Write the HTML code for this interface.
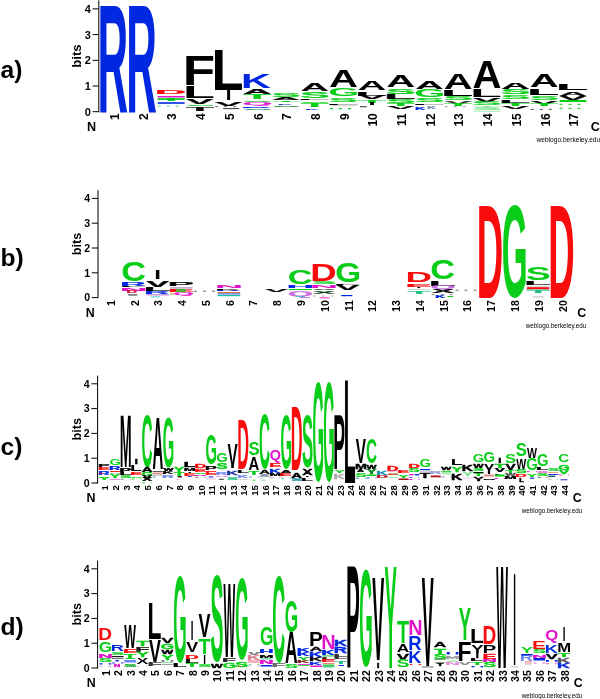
<!DOCTYPE html>
<html lang="en"><head><meta charset="utf-8"><title>Sequence logos</title>
<style>
html,body{margin:0;padding:0;background:#fff}
body{width:600px;height:699px;overflow:hidden}
svg{display:block;filter:blur(0.35px)}
text{font-family:"Liberation Sans",Arial,Helvetica,sans-serif}
.L text{font-weight:bold;font-size:100px;stroke-width:0.6px;vector-effect:non-scaling-stroke;stroke-linejoin:round}
.b{font-weight:bold;fill:#000}
.r{font-weight:normal;fill:#000}
</style></head><body>
<svg width="600" height="699" viewBox="0 0 600 699">
<rect width="600" height="699" fill="#fff"/>
<g class="L">
<text transform="matrix(0.424 0 0 1.541 97.465 111.7)" fill="#0028e0">R</text>
<text transform="matrix(0.424 0 0 1.541 126.165 111.7)" fill="#0028e0">R</text>
<text transform="matrix(0.439 0 0 0.057 154.766 94.2)" fill="#f80c0c" stroke="#f80c0c">D</text>
<rect x="157.7" y="96" width="26.9" height="1.5" fill="#e014c8"/>
<text transform="matrix(0.457 0 0 0.036 157.187 101)" fill="#0acd19" stroke="#0acd19">T</text>
<rect x="157.7" y="98.5" width="26.9" height="1.4" fill="#0acd19"/>
<rect x="157.7" y="102.2" width="26.9" height="1.6" fill="#0028e0"/>
<path d="M157.7 106.2H184.6" stroke="#7fe08a" stroke-width="1.2" stroke-dasharray="3 6" fill="none"/>
<text transform="matrix(0.53 0 0 0.416 182.853 85.3)" fill="#000">F</text>
<text transform="matrix(0.524 0 0 0.172 182.894 98)" fill="#000">L</text>
<text transform="matrix(0.412 0 0 0.068 186.118 104)" fill="#000" stroke="#000">V</text>
<text transform="matrix(0.449 0 0 0.023 185.106 105.878)" fill="#0acd19" stroke="#0acd19">S</text>
<text transform="matrix(0.457 0 0 0.055 185.887 110.6)" fill="#000" stroke="#000">T</text>
<text transform="matrix(0.524 0 0 0.57 211.594 90)" fill="#000">L</text>
<text transform="matrix(0.205 0 0 0.148 225.696 100.2)" fill="#000">I</text>
<text transform="matrix(0.412 0 0 0.054 214.818 105.5)" fill="#000" stroke="#000">V</text>
<path d="M215.1 106.6H242" stroke="#444" stroke-width="0.8" stroke-dasharray="3 6" fill="none"/>
<rect x="223.17" y="108.3" width="16.14" height="0.8" fill="#000"/>
<text transform="matrix(0.416 0 0 0.211 241.015 87.8)" fill="#0028e0">K</text>
<text transform="matrix(0.401 0 0 0.073 242.802 93.8)" fill="#000" stroke="#000">A</text>
<text transform="matrix(0.457 0 0 0.065 243.287 98.5)" fill="#0acd19" stroke="#0acd19">T</text>
<text transform="matrix(0.449 0 0 0.021 242.506 101.879)" fill="#0acd19" stroke="#0acd19">S</text>
<text transform="matrix(0.387 0 0 0.035 242.212 105.218)" fill="#e014c8" stroke="#e014c8">Q</text>
<text transform="matrix(0.424 0 0 0.02 240.965 108.4)" fill="#0028e0" stroke="#0028e0">R</text>
<text transform="matrix(0.449 0 0 0.018 242.506 109.682)" fill="#0a8a50" stroke="#0a8a50">S</text>
<text transform="matrix(0.449 0 0 0.051 271.206 96.55)" fill="#0acd19" stroke="#0acd19">S</text>
<text transform="matrix(0.401 0 0 0.038 271.502 99.6)" fill="#000" stroke="#000">A</text>
<text transform="matrix(0.457 0 0 0.019 271.987 102.1)" fill="#0acd19" stroke="#0acd19">T</text>
<text transform="matrix(0.208 0 0 0.025 277.832 104.5)" fill="#1a3fb0" stroke="#1a3fb0">K</text>
<text transform="matrix(0.449 0 0 0.021 271.206 107.479)" fill="#0a7a20" stroke="#0a7a20">S</text>
<text transform="matrix(0.401 0 0 0.102 300.202 90.5)" fill="#000">A</text>
<text transform="matrix(0.449 0 0 0.082 299.906 97.52)" fill="#0acd19" stroke="#0acd19">S</text>
<text transform="matrix(0.524 0 0 0.022 297.694 100)" fill="#000" stroke="#000">L</text>
<text transform="matrix(0.449 0 0 0.025 299.906 102.575)" fill="#0acd19" stroke="#0acd19">S</text>
<text transform="matrix(0.457 0 0 0.055 300.687 107)" fill="#0acd19" stroke="#0acd19">T</text>
<text transform="matrix(0.187 0 0 0.019 305.327 109.5)" fill="#0028e0" stroke="#0028e0">K</text>
<text transform="matrix(0.401 0 0 0.247 328.902 87)" fill="#000">A</text>
<text transform="matrix(0.399 0 0 0.113 328.265 96.49)" fill="#0acd19">G</text>
<text transform="matrix(0.449 0 0 0.062 328.606 102.139)" fill="#0acd19" stroke="#0acd19">S</text>
<text transform="matrix(0.524 0 0 0.019 326.394 104.5)" fill="#000" stroke="#000">L</text>
<rect x="329.9" y="105.6" width="26.9" height="0.5" fill="#aaa"/>
<path d="M329.9 108.6H356.8" stroke="#0acd19" stroke-width="1.2" stroke-dasharray="3 6" fill="none"/>
<text transform="matrix(0.401 0 0 0.132 357.602 90.4)" fill="#000">A</text>
<text transform="matrix(0.524 0 0 0.061 355.094 96)" fill="#000" stroke="#000">L</text>
<text transform="matrix(0.412 0 0 0.049 358.318 99)" fill="#000" stroke="#000">V</text>
<text transform="matrix(0.457 0 0 0.044 358.087 103)" fill="#0acd19" stroke="#0acd19">T</text>
<text transform="matrix(0.205 0 0 0.026 369.196 105)" fill="#000" stroke="#000">I</text>
<rect x="359.945" y="106.2" width="6.725" height="1" fill="#333"/>
<text transform="matrix(0.401 0 0 0.16 386.302 87.3)" fill="#000">A</text>
<text transform="matrix(0.449 0 0 0.073 386.006 93.928)" fill="#0acd19" stroke="#0acd19">S</text>
<text transform="matrix(0.524 0 0 0.07 383.794 98.8)" fill="#000" stroke="#000">L</text>
<text transform="matrix(0.449 0 0 0.052 386.006 103.149)" fill="#0acd19" stroke="#0acd19">S</text>
<text transform="matrix(0.457 0 0 0.042 386.787 106.4)" fill="#0acd19" stroke="#0acd19">T</text>
<text transform="matrix(0.412 0 0 0.035 387.018 108.6)" fill="#000" stroke="#000">V</text>
<text transform="matrix(0.401 0 0 0.113 415.002 88.6)" fill="#000">A</text>
<text transform="matrix(0.399 0 0 0.11 414.365 97.092)" fill="#0acd19">G</text>
<text transform="matrix(0.449 0 0 0.054 414.706 101.548)" fill="#0acd19" stroke="#0acd19">S</text>
<text transform="matrix(0.524 0 0 0.017 412.494 105)" fill="#000" stroke="#000">L</text>
<text transform="matrix(0.146 0 0 0.044 415.025 109.5)" fill="#0028e0" stroke="#0028e0">K</text>
<text transform="matrix(0.125 0 0 0.029 427.269 109)" fill="#7a90b0" stroke="#7a90b0">K</text>
<text transform="matrix(0.401 0 0 0.221 443.702 88.5)" fill="#000">A</text>
<text transform="matrix(0.524 0 0 0.092 441.194 95.6)" fill="#000" stroke="#000">L</text>
<text transform="matrix(0.449 0 0 0.059 443.406 100.142)" fill="#0acd19" stroke="#0acd19">S</text>
<text transform="matrix(0.412 0 0 0.036 444.418 104)" fill="#333" stroke="#333">V</text>
<text transform="matrix(0.457 0 0 0.026 444.187 105.8)" fill="#0acd19" stroke="#0acd19">T</text>
<path d="M444.7 106.7H471.6" stroke="#666" stroke-width="0.6" stroke-dasharray="3 6" fill="none"/>
<text transform="matrix(0.401 0 0 0.395 472.402 88)" fill="#000">A</text>
<text transform="matrix(0.524 0 0 0.116 469.894 97)" fill="#000">L</text>
<text transform="matrix(0.412 0 0 0.055 473.118 101.8)" fill="#000" stroke="#000">V</text>
<text transform="matrix(0.449 0 0 0.045 472.106 104.956)" fill="#0acd19" stroke="#0acd19">S</text>
<text transform="matrix(0.457 0 0 0.02 472.887 107.4)" fill="#7fe08a" stroke="#7fe08a">T</text>
<text transform="matrix(0.449 0 0 0.028 472.106 109.972)" fill="#7fe08a" stroke="#7fe08a">S</text>
<rect x="473.4" y="110.8" width="26.9" height="0.7" fill="#7fe08a"/>
<text transform="matrix(0.401 0 0 0.087 501.102 88.6)" fill="#000" stroke="#000">A</text>
<text transform="matrix(0.449 0 0 0.068 500.806 94.134)" fill="#0acd19" stroke="#0acd19">S</text>
<text transform="matrix(0.449 0 0 0.054 500.806 99.148)" fill="#0acd19" stroke="#0acd19">S</text>
<text transform="matrix(0.524 0 0 0.041 498.594 102.8)" fill="#000" stroke="#000">L</text>
<text transform="matrix(0.457 0 0 0.031 501.587 105.6)" fill="#0acd19" stroke="#0acd19">T</text>
<text transform="matrix(0.412 0 0 0.031 501.818 108.6)" fill="#000" stroke="#000">V</text>
<text transform="matrix(0.401 0 0 0.176 529.802 86.6)" fill="#000">A</text>
<text transform="matrix(0.524 0 0 0.092 527.294 94.6)" fill="#000" stroke="#000">L</text>
<text transform="matrix(0.449 0 0 0.059 529.506 99.542)" fill="#0acd19" stroke="#0acd19">S</text>
<text transform="matrix(0.412 0 0 0.035 530.518 103.6)" fill="#000" stroke="#000">V</text>
<text transform="matrix(0.457 0 0 0.032 530.287 106.2)" fill="#0acd19" stroke="#0acd19">T</text>
<path d="M530.8 109.4H557.7" stroke="#222" stroke-width="0.8" stroke-dasharray="3 6" fill="none"/>
<text transform="matrix(0.524 0 0 0.084 555.994 89.8)" fill="#000" stroke="#000">L</text>
<text transform="matrix(0.401 0 0 0.061 558.502 95.5)" fill="#000" stroke="#000">A</text>
<text transform="matrix(0.412 0 0 0.06 559.218 99.6)" fill="#000" stroke="#000">V</text>
<rect x="559.5" y="100" width="26.9" height="2" fill="#0acd19"/>
<path d="M559.5 104.3H586.4" stroke="#0acd19" stroke-width="1" stroke-dasharray="3 6" fill="none"/>
<path d="M559.5 108.3H586.4" stroke="#0acd19" stroke-width="1" stroke-dasharray="3 6" fill="none"/>
</g>
<path d="M98.8 0.419V112.2M92.6 111.7H98.8M92.6 86H98.8M92.6 60.3H98.8M92.6 34.6H98.8M92.6 8.9H98.8" stroke="#000" stroke-width="1" fill="none"/>
<g class="b" font-size="11" text-anchor="end">
<text x="90.9" y="115.66">0</text>
<text x="90.9" y="89.96">1</text>
<text x="90.9" y="64.26">2</text>
<text x="90.9" y="38.56">3</text>
<text x="90.9" y="12.86">4</text>
</g>
<text class="b" font-size="13.2" text-anchor="middle" transform="translate(81.4 56.06) rotate(-90)">bits</text>
<g class="b" font-size="12" text-anchor="end">
<text transform="translate(119.046 113.2) rotate(-90)">1</text>
<text transform="translate(147.746 113.2) rotate(-90)">2</text>
<text transform="translate(176.446 113.2) rotate(-90)">3</text>
<text transform="translate(205.146 113.2) rotate(-90)">4</text>
<text transform="translate(233.846 113.2) rotate(-90)">5</text>
<text transform="translate(262.546 113.2) rotate(-90)">6</text>
<text transform="translate(291.246 113.2) rotate(-90)">7</text>
<text transform="translate(319.946 113.2) rotate(-90)">8</text>
<text transform="translate(348.646 113.2) rotate(-90)">9</text>
<text transform="translate(377.346 113.2) rotate(-90)">10</text>
<text transform="translate(406.046 113.2) rotate(-90)">11</text>
<text transform="translate(434.746 113.2) rotate(-90)">12</text>
<text transform="translate(463.446 113.2) rotate(-90)">13</text>
<text transform="translate(492.146 113.2) rotate(-90)">14</text>
<text transform="translate(520.846 113.2) rotate(-90)">15</text>
<text transform="translate(549.546 113.2) rotate(-90)">16</text>
<text transform="translate(578.246 113.2) rotate(-90)">17</text>
</g>
<text class="b" font-size="12.6" text-anchor="end" x="96" y="131.1">N</text>
<text class="b" font-size="12.6" x="590.8" y="131.1">C</text>
<text class="r" font-size="6.6" text-anchor="end" x="600.2" y="141.9">weblogo.berkeley.edu</text>
<text class="b" font-size="24.6" x="0.5" y="77.8">a)</text>
<g class="L">
<text transform="matrix(0.344 0 0 0.268 121.17 281.238)" fill="#0acd19">C</text>
<text transform="matrix(0.354 0 0 0.045 120.211 285.6)" fill="#0028e0" stroke="#0028e0">R</text>
<text transform="matrix(0.438 0 0 0.016 119.65 287.3)" fill="#000" stroke="#000">L</text>
<text transform="matrix(0.382 0 0 0.032 120.022 290.6)" fill="#e014c8" stroke="#e014c8">N</text>
<text transform="matrix(0.147 0 0 0.032 126.545 293.2)" fill="#d01030" stroke="#d01030">D</text>
<rect x="128.2" y="294.5" width="8.992" height="0.9" fill="#000"/>
<text transform="matrix(0.242 0 0 0.131 154.24 278.5)" fill="#000">I</text>
<text transform="matrix(0.344 0 0 0.084 146.125 286.6)" fill="#000" stroke="#000">V</text>
<text transform="matrix(0.438 0 0 0.051 143.43 290.5)" fill="#000" stroke="#000">L</text>
<text transform="matrix(0.354 0 0 0.031 143.991 293.9)" fill="#0028e0" stroke="#0028e0">R</text>
<rect x="146.36" y="294.5" width="22.48" height="0.8" fill="#a040c0"/>
<rect x="150.856" y="296.5" width="8.992" height="0.8" fill="#22c4c4"/>
<text transform="matrix(0.397 0 0 0.061 167.483 286.2)" fill="#000" stroke="#000">P</text>
<rect x="170.14" y="287.6" width="22.48" height="0.7" fill="#703080"/>
<text transform="matrix(0.401 0 0 0.041 167.46 292.2)" fill="#f80c0c" stroke="#f80c0c">E</text>
<text transform="matrix(0.169 0 0 0.04 175.274 292.161)" fill="#0acd19" stroke="#0acd19">S</text>
<text transform="matrix(0.259 0 0 0.031 173.574 295.184)" fill="#e014c8" stroke="#e014c8">Q</text>
<rect x="170.14" y="293.4" width="4.496" height="1" fill="#f07030"/>
<path d="M193.92 291.2H216.4" stroke="#444" stroke-width="0.8" stroke-dasharray="3 6" fill="none"/>
<text transform="matrix(0.382 0 0 0.039 215.142 288.2)" fill="#e014c8" stroke="#e014c8">N</text>
<text transform="matrix(0.348 0 0 0.02 215.372 289.8)" fill="#000" stroke="#000">K</text>
<text transform="matrix(0.354 0 0 0.022 215.331 291.3)" fill="#0028e0" stroke="#0028e0">R</text>
<rect x="217.7" y="292" width="22.48" height="1" fill="#f07030"/>
<rect x="217.7" y="293.5" width="22.48" height="0.8" fill="#0028e0"/>
<rect x="217.7" y="294.8" width="22.48" height="1.4" fill="#20c0a0"/>
<text transform="matrix(0.344 0 0 0.044 265.025 292)" fill="#000" stroke="#000">V</text>
<text transform="matrix(0.344 0 0 0.198 287.63 283.807)" fill="#0acd19">C</text>
<text transform="matrix(0.382 0 0 0.033 286.482 287.8)" fill="#0028e0" stroke="#0028e0">H</text>
<rect x="289.04" y="289" width="22.48" height="1" fill="#0acd19"/>
<text transform="matrix(0.324 0 0 0.066 287.713 295.603)" fill="#c770de" stroke="#c770de">Q</text>
<rect x="295.784" y="296.3" width="8.992" height="0.7" fill="#22c4c4"/>
<text transform="matrix(0.367 0 0 0.23 310.368 280.8)" fill="#f80c0c">D</text>
<text transform="matrix(0.375 0 0 0.031 311.739 284.47)" fill="#0acd19" stroke="#0acd19">S</text>
<text transform="matrix(0.382 0 0 0.026 310.262 288)" fill="#e014c8" stroke="#e014c8">N</text>
<text transform="matrix(0.344 0 0 0.017 312.585 290.2)" fill="#000" stroke="#000">V</text>
<text transform="matrix(0.346 0 0 0.036 312.516 294)" fill="#063a10" stroke="#063a10">X</text>
<path d="M312.82 296H335.3" stroke="#999" stroke-width="0.8" stroke-dasharray="3 6" fill="none"/>
<rect x="319.564" y="297.4" width="10.116" height="0.9" fill="#e014c8"/>
<text transform="matrix(0.333 0 0 0.282 335.233 281.724)" fill="#0acd19">G</text>
<text transform="matrix(0.438 0 0 0.022 333.67 284.8)" fill="#000" stroke="#000">L</text>
<text transform="matrix(0.344 0 0 0.07 336.365 289.6)" fill="#000" stroke="#000">V</text>
<rect x="341.096" y="295" width="11.24" height="1.2" fill="#0028e0"/>
<text transform="matrix(0.367 0 0 0.141 405.488 282.2)" fill="#f80c0c">D</text>
<text transform="matrix(0.401 0 0 0.038 405.26 286.6)" fill="#f80c0c" stroke="#f80c0c">E</text>
<rect x="417.382" y="287" width="2.698" height="1.1" fill="#000"/>
<rect x="407.94" y="289.3" width="22.48" height="0.5" fill="#aaa"/>
<text transform="matrix(0.382 0 0 0.032 407.511 294)" fill="#20c080" stroke="#20c080">T</text>
<text transform="matrix(0.344 0 0 0.275 430.31 278.731)" fill="#0acd19">C</text>
<text transform="matrix(0.438 0 0 0.073 428.79 285.5)" fill="#000" stroke="#000">L</text>
<text transform="matrix(0.324 0 0 0.048 430.393 289.355)" fill="#c770de" stroke="#c770de">Q</text>
<text transform="matrix(0.346 0 0 0.049 431.416 293.2)" fill="#000" stroke="#000">X</text>
<path d="M431.72 294.6H454.2" stroke="#333" stroke-width="0.6" stroke-dasharray="3 6" fill="none"/>
<text transform="matrix(0.139 0 0 0.029 435.285 297.5)" fill="#0028e0" stroke="#0028e0">K</text>
<rect x="447.456" y="296" width="5.62" height="1" fill="#0acd19"/>
<path d="M455.5 290.2H477.98" stroke="#444" stroke-width="0.8" stroke-dasharray="3 6" fill="none"/>
<text transform="matrix(0.367 0 0 1.344 476.828 297.5)" fill="#f80c0c">D</text>
<text transform="matrix(0.333 0 0 1.325 501.693 296.506)" fill="#0acd19">G</text>
<text transform="matrix(0.375 0 0 0.191 525.759 279.814)" fill="#0acd19">S</text>
<text transform="matrix(0.438 0 0 0.051 523.91 285.3)" fill="#000" stroke="#000">L</text>
<rect x="526.84" y="286" width="22.48" height="0.5" fill="#999"/>
<rect x="526.84" y="287.2" width="22.48" height="1.8" fill="#f80c0c"/>
<rect x="526.84" y="289.4" width="22.48" height="0.4" fill="#444"/>
<text transform="matrix(0.382 0 0 0.031 526.411 292.6)" fill="#20c080" stroke="#20c080">T</text>
<rect x="532.46" y="296.5" width="11.24" height="0.8" fill="#aaa"/>
<text transform="matrix(0.367 0 0 1.344 548.168 297.5)" fill="#f80c0c">D</text>
</g>
<path d="M98 190.216V298.1M91.8 297.6H98M91.8 272.8H98M91.8 248H98M91.8 223.2H98M91.8 198.4H98" stroke="#000" stroke-width="1" fill="none"/>
<g class="b" font-size="10.6" text-anchor="end">
<text x="90.1" y="301.416">0</text>
<text x="90.1" y="276.616">1</text>
<text x="90.1" y="251.816">2</text>
<text x="90.1" y="227.016">3</text>
<text x="90.1" y="202.216">4</text>
</g>
<text class="b" font-size="12.7" text-anchor="middle" transform="translate(80.8 243.908) rotate(-90)">bits</text>
<g class="b" font-size="10.5" text-anchor="end">
<text transform="translate(114.749 300.2) rotate(-90)">1</text>
<text transform="translate(138.529 300.2) rotate(-90)">2</text>
<text transform="translate(162.309 300.2) rotate(-90)">3</text>
<text transform="translate(186.089 300.2) rotate(-90)">4</text>
<text transform="translate(209.869 300.2) rotate(-90)">5</text>
<text transform="translate(233.649 300.2) rotate(-90)">6</text>
<text transform="translate(257.429 300.2) rotate(-90)">7</text>
<text transform="translate(281.209 300.2) rotate(-90)">8</text>
<text transform="translate(304.989 300.2) rotate(-90)">9</text>
<text transform="translate(328.769 300.2) rotate(-90)">10</text>
<text transform="translate(352.549 300.2) rotate(-90)">11</text>
<text transform="translate(376.329 300.2) rotate(-90)">12</text>
<text transform="translate(400.109 300.2) rotate(-90)">13</text>
<text transform="translate(423.889 300.2) rotate(-90)">14</text>
<text transform="translate(447.669 300.2) rotate(-90)">15</text>
<text transform="translate(471.449 300.2) rotate(-90)">16</text>
<text transform="translate(495.229 300.2) rotate(-90)">17</text>
<text transform="translate(519.009 300.2) rotate(-90)">18</text>
<text transform="translate(542.789 300.2) rotate(-90)">19</text>
<text transform="translate(566.569 300.2) rotate(-90)">20</text>
</g>
<text class="b" font-size="12.4" text-anchor="end" x="94.7" y="316.8">N</text>
<text class="b" font-size="12.4" x="577.2" y="316.8">C</text>
<text class="r" font-size="6.27" text-anchor="end" x="586.3" y="328">weblogo.berkeley.edu</text>
<text class="b" font-size="24.6" x="0.5" y="265.5">b)</text>
<g class="L">
<text transform="matrix(0.177 0 0 0.041 98.119 466.6)" fill="#000" stroke="#000">P</text>
<text transform="matrix(0.178 0 0 0.035 98.109 470.2)" fill="#f80c0c" stroke="#f80c0c">E</text>
<text transform="matrix(0.157 0 0 0.048 98.247 474.5)" fill="#0028e0" stroke="#0028e0">R</text>
<rect x="99.3" y="472.8" width="3.996" height="0.8" fill="#f80c0c"/>
<text transform="matrix(0.167 0 0 0.023 98.82 477.578)" fill="#0acd19" stroke="#0acd19">S</text>
<text transform="matrix(0.158 0 0 0.026 99.031 480.2)" fill="#0acd19" stroke="#0acd19">Y</text>
<text transform="matrix(0.148 0 0 0.095 109.383 465.108)" fill="#0acd19">G</text>
<text transform="matrix(0.157 0 0 0.047 108.937 470.2)" fill="#0028e0" stroke="#0028e0">R</text>
<rect x="109.99" y="471" width="9.99" height="0.9" fill="#f80c0c"/>
<rect x="109.99" y="473.2" width="9.99" height="0.5" fill="#aaa"/>
<text transform="matrix(0.158 0 0 0.055 109.721 477.8)" fill="#0acd19" stroke="#0acd19">Y</text>
<rect x="109.99" y="479" width="9.99" height="1" fill="#e58be0"/>
<text transform="matrix(0.143 0 0 0.735 119.724 466.6)" fill="#000">M</text>
<text transform="matrix(0.177 0 0 0.048 119.499 472.3)" fill="#000" stroke="#000">P</text>
<text transform="matrix(0.195 0 0 0.031 119.378 474.9)" fill="#000" stroke="#000">L</text>
<text transform="matrix(0.167 0 0 0.034 120.2 478.167)" fill="#0acd19" stroke="#0acd19">S</text>
<path d="M120.68 479.3H130.67" stroke="#333" stroke-width="0.6" stroke-dasharray="3 6" fill="none"/>
<text transform="matrix(0.111 0 0 0.065 134.824 464)" fill="#000" stroke="#000">I</text>
<text transform="matrix(0.195 0 0 0.094 130.068 471)" fill="#000">L</text>
<text transform="matrix(0.178 0 0 0.038 130.179 475.2)" fill="#f80c0c" stroke="#f80c0c">E</text>
<text transform="matrix(0.167 0 0 0.02 130.89 477.581)" fill="#0acd19" stroke="#0acd19">S</text>
<path d="M131.37 479H141.36" stroke="#0acd19" stroke-width="0.8" stroke-dasharray="3 6" fill="none"/>
<text transform="matrix(0.153 0 0 0.742 141.433 466.776)" fill="#0acd19">C</text>
<text transform="matrix(0.149 0 0 0.065 141.689 472.3)" fill="#000" stroke="#000">A</text>
<text transform="matrix(0.148 0 0 0.051 141.453 475.55)" fill="#0acd19" stroke="#0acd19">G</text>
<text transform="matrix(0.153 0 0 0.038 141.955 478)" fill="#000" stroke="#000">V</text>
<text transform="matrix(0.154 0 0 0.047 141.925 481.2)" fill="#000" stroke="#000">X</text>
<path d="M142.06 482.8H152.05" stroke="#0acd19" stroke-width="0.8" stroke-dasharray="3 6" fill="none"/>
<text transform="matrix(0.149 0 0 0.75 152.379 468.6)" fill="#000">A</text>
<rect x="152.75" y="471" width="9.99" height="0.9" fill="#445"/>
<rect x="152.75" y="472.6" width="9.99" height="1.8" fill="#e08a8a"/>
<rect x="152.75" y="475.2" width="9.99" height="0.6" fill="#aaa"/>
<path d="M152.75 477H162.74" stroke="#3080a0" stroke-width="0.8" stroke-dasharray="3 6" fill="none"/>
<text transform="matrix(0.148 0 0 0.703 162.833 467.113)" fill="#0acd19">G</text>
<text transform="matrix(0.106 0 0 0.029 163.43 471)" fill="#000" stroke="#000">W</text>
<text transform="matrix(0.155 0 0 0.044 162.406 474)" fill="#000" stroke="#000">K</text>
<text transform="matrix(0.157 0 0 0.029 162.387 477.5)" fill="#6f86ee" stroke="#6f86ee">R</text>
<text transform="matrix(0.158 0 0 0.065 173.861 471.5)" fill="#0acd19" stroke="#0acd19">Y</text>
<text transform="matrix(0.17 0 0 0.051 173.939 476)" fill="#0acd19" stroke="#0acd19">T</text>
<rect x="177.626" y="476.2" width="4.296" height="1.2" fill="#000"/>
<rect x="176.128" y="479.3" width="3.996" height="0.5" fill="#e58be0"/>
<text transform="matrix(0.195 0 0 0.073 183.518 466.5)" fill="#000" stroke="#000">L</text>
<text transform="matrix(0.143 0 0 0.044 183.864 471)" fill="#000" stroke="#000">M</text>
<text transform="matrix(0.111 0 0 0.025 188.274 473)" fill="#000" stroke="#000">I</text>
<text transform="matrix(0.178 0 0 0.033 183.629 475.5)" fill="#f80c0c" stroke="#f80c0c">E</text>
<rect x="187.817" y="476.2" width="3.996" height="0.8" fill="#0028e0"/>
<text transform="matrix(0.163 0 0 0.058 194.42 467.5)" fill="#f80c0c" stroke="#f80c0c">D</text>
<text transform="matrix(0.178 0 0 0.036 194.319 471.5)" fill="#f80c0c" stroke="#f80c0c">E</text>
<text transform="matrix(0.167 0 0 0.025 195.03 473.975)" fill="#0acd19" stroke="#0acd19">S</text>
<text transform="matrix(0.17 0 0 0.02 194.373 475.6)" fill="#e014c8" stroke="#e014c8">N</text>
<path d="M195.51 477.35H205.5" stroke="#333" stroke-width="0.7" stroke-dasharray="3 6" fill="none"/>
<text transform="matrix(0.148 0 0 0.424 205.593 463.586)" fill="#0acd19">G</text>
<text transform="matrix(0.177 0 0 0.048 205.019 469.5)" fill="#000" stroke="#000">P</text>
<text transform="matrix(0.178 0 0 0.051 205.009 474.5)" fill="#f80c0c" stroke="#f80c0c">E</text>
<rect x="208.697" y="476.5" width="4.495" height="1" fill="#0028e0"/>
<rect x="206.2" y="478.8" width="9.99" height="0.5" fill="#e58be0"/>
<text transform="matrix(0.148 0 0 0.134 216.283 462.369)" fill="#0acd19">G</text>
<text transform="matrix(0.167 0 0 0.089 216.41 469.413)" fill="#0acd19" stroke="#0acd19">S</text>
<text transform="matrix(0.157 0 0 0.044 215.837 474.5)" fill="#6f86ee" stroke="#6f86ee">R</text>
<text transform="matrix(0.17 0 0 0.017 215.753 477.2)" fill="#e58be0" stroke="#e58be0">N</text>
<rect x="218.888" y="478.8" width="4.995" height="0.8" fill="#000"/>
<text transform="matrix(0.153 0 0 0.32 227.475 465.5)" fill="#000">V</text>
<text transform="matrix(0.111 0 0 0.026 231.034 468)" fill="#000" stroke="#000">I</text>
<text transform="matrix(0.155 0 0 0.058 226.546 474.5)" fill="#1830a0" stroke="#1830a0">K</text>
<text transform="matrix(0.167 0 0 0.042 227.1 480.459)" fill="#20c080" stroke="#20c080">S</text>
<text transform="matrix(0.163 0 0 0.712 237.18 469)" fill="#f80c0c">D</text>
<text transform="matrix(0.195 0 0 0.038 236.968 472.6)" fill="#000" stroke="#000">L</text>
<text transform="matrix(0.155 0 0 0.029 237.236 477.5)" fill="#6f86ee" stroke="#6f86ee">K</text>
<rect x="238.27" y="479" width="9.99" height="0.5" fill="#aaa"/>
<text transform="matrix(0.167 0 0 0.191 248.48 455.314)" fill="#0acd19">S</text>
<text transform="matrix(0.149 0 0 0.189 248.589 469.5)" fill="#000">A</text>
<text transform="matrix(0.17 0 0 0.051 248.769 474.5)" fill="#0acd19" stroke="#0acd19">T</text>
<path d="M248.96 477H258.95" stroke="#6080a0" stroke-width="0.8" stroke-dasharray="3 6" fill="none"/>
<rect x="251.957" y="479.8" width="3.996" height="0.6" fill="#0acd19"/>
<text transform="matrix(0.153 0 0 0.785 259.023 467.833)" fill="#0acd19">C</text>
<text transform="matrix(0.149 0 0 0.051 259.279 474)" fill="#000" stroke="#000">A</text>
<text transform="matrix(0.149 0 0 0.031 259.279 476.6)" fill="#8899aa" stroke="#8899aa">A</text>
<path d="M259.65 478.55H269.64" stroke="#888" stroke-width="0.5" stroke-dasharray="3 6" fill="none"/>
<rect x="261.648" y="479.8" width="3.996" height="0.6" fill="#20c080"/>
<text transform="matrix(0.144 0 0 0.154 269.75 459.766)" fill="#e014c8">Q</text>
<text transform="matrix(0.178 0 0 0.049 269.149 467.2)" fill="#f80c0c" stroke="#f80c0c">E</text>
<text transform="matrix(0.155 0 0 0.058 269.306 472.5)" fill="#0028e0" stroke="#0028e0">K</text>
<text transform="matrix(0.143 0 0 0.039 269.384 476.2)" fill="#000" stroke="#000">M</text>
<path d="M270.34 477.7H280.33" stroke="#444" stroke-width="0.6" stroke-dasharray="3 6" fill="none"/>
<text transform="matrix(0.148 0 0 0.757 280.423 467.86)" fill="#0acd19">G</text>
<text transform="matrix(0.149 0 0 0.036 280.659 473)" fill="#000" stroke="#000">A</text>
<text transform="matrix(0.178 0 0 0.029 279.839 475.5)" fill="#f80c0c" stroke="#f80c0c">E</text>
<path d="M281.03 477.05H291.02" stroke="#999" stroke-width="0.5" stroke-dasharray="3 6" fill="none"/>
<path d="M281.03 478.7H291.02" stroke="#20c080" stroke-width="0.6" stroke-dasharray="3 6" fill="none"/>
<text transform="matrix(0.163 0 0 0.916 290.63 470)" fill="#f80c0c">D</text>
<text transform="matrix(0.149 0 0 0.065 291.349 477.5)" fill="#000" stroke="#000">A</text>
<text transform="matrix(0.167 0 0 0.042 291.24 481.459)" fill="#2090a0" stroke="#2090a0">S</text>
<text transform="matrix(0.167 0 0 0.742 301.93 466.776)" fill="#0acd19">S</text>
<text transform="matrix(0.154 0 0 0.087 302.275 474.5)" fill="#000" stroke="#000">X</text>
<text transform="matrix(0.111 0 0 0.023 305.864 476.6)" fill="#000" stroke="#000">I</text>
<text transform="matrix(0.195 0 0 0.026 301.108 480.8)" fill="#000" stroke="#000">L</text>
<text transform="matrix(0.148 0 0 1.417 312.493 480.916)" fill="#0acd19">G</text>
<text transform="matrix(0.148 0 0 1.417 323.183 480.916)" fill="#0acd19">G</text>
<text transform="matrix(0.177 0 0 0.779 333.299 468.6)" fill="#000">P</text>
<text transform="matrix(0.158 0 0 0.041 334.211 472.6)" fill="#0acd19" stroke="#0acd19">Y</text>
<text transform="matrix(0.155 0 0 0.065 333.446 478.5)" fill="#aaa" stroke="#aaa">K</text>
<text transform="matrix(0.195 0 0 1.475 343.868 482.5)" fill="#000">L</text>
<text transform="matrix(0.153 0 0 0.349 355.755 463)" fill="#000">V</text>
<text transform="matrix(0.143 0 0 0.076 354.904 469)" fill="#000" stroke="#000">M</text>
<text transform="matrix(0.097 0 0 0.029 357.117 472)" fill="#000" stroke="#000">A</text>
<text transform="matrix(0.167 0 0 0.047 355.38 476.754)" fill="#0acd19" stroke="#0acd19">S</text>
<path d="M355.86 478.25H365.85" stroke="#2070c0" stroke-width="0.9" stroke-dasharray="3 6" fill="none"/>
<text transform="matrix(0.153 0 0 0.36 365.923 463.148)" fill="#0acd19">C</text>
<text transform="matrix(0.106 0 0 0.051 366.54 468.5)" fill="#000" stroke="#000">W</text>
<text transform="matrix(0.158 0 0 0.065 366.281 473.5)" fill="#0a8a20" stroke="#0a8a20">Y</text>
<rect x="366.55" y="474.5" width="9.99" height="1.5" fill="#0acd19"/>
<path d="M366.55 477.95H376.54" stroke="#0028e0" stroke-width="0.9" stroke-dasharray="3 6" fill="none"/>
<text transform="matrix(0.155 0 0 0.051 376.206 474.5)" fill="#1890b0" stroke="#1890b0">K</text>
<text transform="matrix(0.163 0 0 0.029 376.15 477.5)" fill="#c01020" stroke="#c01020">D</text>
<text transform="matrix(0.163 0 0 0.073 386.84 470.5)" fill="#f80c0c" stroke="#f80c0c">D</text>
<rect x="387.93" y="470.8" width="9.99" height="0.6" fill="#e58be0"/>
<rect x="387.93" y="473.5" width="9.99" height="1.5" fill="#c06030"/>
<text transform="matrix(0.167 0 0 0.021 387.45 477.979)" fill="#7fe08a" stroke="#7fe08a">S</text>
<text transform="matrix(0.178 0 0 0.038 397.429 472.6)" fill="#f80c0c" stroke="#f80c0c">E</text>
<text transform="matrix(0.158 0 0 0.036 398.351 477.5)" fill="#0acd19" stroke="#0acd19">Y</text>
<rect x="398.62" y="478.5" width="9.99" height="1.5" fill="#a01010"/>
<text transform="matrix(0.163 0 0 0.051 408.22 468)" fill="#f80c0c" stroke="#f80c0c">D</text>
<text transform="matrix(0.167 0 0 0.049 408.83 471.952)" fill="#0acd19" stroke="#0acd19">S</text>
<rect x="409.31" y="474" width="4.495" height="1.4" fill="#e014c8"/>
<rect x="414.805" y="474" width="4.495" height="1.4" fill="#0028e0"/>
<path d="M409.31 477.5H419.3" stroke="#6050d0" stroke-width="1" stroke-dasharray="3 6" fill="none"/>
<path d="M409.31 479.5H419.3" stroke="#e014c8" stroke-width="1" stroke-dasharray="3 6" fill="none"/>
<text transform="matrix(0.148 0 0 0.106 419.393 467.397)" fill="#0acd19">G</text>
<rect x="420" y="469" width="9.99" height="1.2" fill="#0028e0"/>
<rect x="420" y="471.3" width="9.99" height="0.5" fill="#aaa"/>
<text transform="matrix(0.17 0 0 0.065 419.809 478)" fill="#000" stroke="#000">T</text>
<text transform="matrix(0.157 0 0 0.039 429.637 473.5)" fill="#90a0d0" stroke="#90a0d0">R</text>
<rect x="430.69" y="475.5" width="9.99" height="1.8" fill="#b01010"/>
<text transform="matrix(0.106 0 0 0.044 441.37 470)" fill="#000" stroke="#000">W</text>
<rect x="441.38" y="471.2" width="9.99" height="1.2" fill="#0acd19"/>
<rect x="441.38" y="473.5" width="9.99" height="0.9" fill="#7fe08a"/>
<path d="M441.38 476.95H451.37" stroke="#7080c0" stroke-width="0.9" stroke-dasharray="3 6" fill="none"/>
<text transform="matrix(0.195 0 0 0.094 450.768 464.5)" fill="#000">L</text>
<text transform="matrix(0.158 0 0 0.073 451.801 471.5)" fill="#0acd19" stroke="#0acd19">Y</text>
<text transform="matrix(0.155 0 0 0.087 451.036 479.5)" fill="#000" stroke="#000">K</text>
<text transform="matrix(0.155 0 0 0.087 461.726 471)" fill="#000" stroke="#000">K</text>
<text transform="matrix(0.158 0 0 0.051 462.491 476)" fill="#7fe08a" stroke="#7fe08a">Y</text>
<rect x="462.76" y="477.8" width="9.99" height="0.5" fill="#e58be0"/>
<text transform="matrix(0.148 0 0 0.106 472.843 462.397)" fill="#0acd19">G</text>
<text transform="matrix(0.106 0 0 0.051 473.44 468)" fill="#000" stroke="#000">W</text>
<text transform="matrix(0.167 0 0 0.042 472.97 471.459)" fill="#0acd19" stroke="#0acd19">S</text>
<rect x="473.45" y="472" width="9.99" height="1" fill="#000"/>
<text transform="matrix(0.17 0 0 0.036 473.259 476)" fill="#0acd19" stroke="#0acd19">T</text>
<text transform="matrix(0.158 0 0 0.058 473.181 481)" fill="#000" stroke="#000">Y</text>
<text transform="matrix(0.148 0 0 0.141 483.533 461.862)" fill="#0acd19">G</text>
<text transform="matrix(0.158 0 0 0.145 483.871 473.5)" fill="#000">Y</text>
<rect x="484.14" y="474.5" width="9.99" height="2" fill="#e08a8a"/>
<text transform="matrix(0.143 0 0 0.022 483.184 480)" fill="#000" stroke="#000">M</text>
<text transform="matrix(0.111 0 0 0.073 498.284 462.5)" fill="#000" stroke="#000">I</text>
<text transform="matrix(0.17 0 0 0.058 494.639 468)" fill="#0acd19" stroke="#0acd19">T</text>
<text transform="matrix(0.153 0 0 0.045 494.725 471.6)" fill="#000" stroke="#000">V</text>
<text transform="matrix(0.078 0 0 0.025 495.308 474.5)" fill="#000" stroke="#000">L</text>
<rect x="494.83" y="474.5" width="9.99" height="2" fill="#0acd19"/>
<path d="M494.83 478.5H504.82" stroke="#e014c8" stroke-width="1" stroke-dasharray="3 6" fill="none"/>
<text transform="matrix(0.167 0 0 0.12 505.04 462.883)" fill="#0acd19">S</text>
<text transform="matrix(0.153 0 0 0.087 505.415 470)" fill="#000" stroke="#000">V</text>
<text transform="matrix(0.17 0 0 0.038 505.329 472.6)" fill="#0acd19" stroke="#0acd19">T</text>
<text transform="matrix(0.106 0 0 0.036 505.51 476)" fill="#555" stroke="#555">W</text>
<text transform="matrix(0.143 0 0 0.029 504.564 479)" fill="#000" stroke="#000">M</text>
<text transform="matrix(0.167 0 0 0.177 515.73 456.328)" fill="#0acd19">S</text>
<text transform="matrix(0.106 0 0 0.153 516.2 468.5)" fill="#000">W</text>
<text transform="matrix(0.167 0 0 0.054 515.73 472.748)" fill="#0acd19" stroke="#0acd19">S</text>
<text transform="matrix(0.163 0 0 0.044 515.12 477)" fill="#f80c0c" stroke="#f80c0c">D</text>
<text transform="matrix(0.078 0 0 0.051 519.186 481.5)" fill="#000" stroke="#000">L</text>
<text transform="matrix(0.106 0 0 0.145 526.89 457.5)" fill="#000">W</text>
<text transform="matrix(0.148 0 0 0.162 526.293 469.841)" fill="#0acd19">G</text>
<path d="M526.9 471.65H536.89" stroke="#e014c8" stroke-width="0.9" stroke-dasharray="3 6" fill="none"/>
<text transform="matrix(0.158 0 0 0.044 526.631 476.5)" fill="#0acd19" stroke="#0acd19">Y</text>
<rect x="529.897" y="477.5" width="4.495" height="1.5" fill="#4060d0"/>
<text transform="matrix(0.148 0 0 0.165 536.983 465.839)" fill="#0acd19">G</text>
<text transform="matrix(0.195 0 0 0.029 536.288 469.9)" fill="#000" stroke="#000">L</text>
<rect x="537.59" y="471.5" width="9.99" height="1" fill="#e014c8"/>
<text transform="matrix(0.167 0 0 0.032 537.11 476.268)" fill="#0acd19" stroke="#0acd19">S</text>
<path d="M537.59 477.4H547.58" stroke="#333" stroke-width="0.8" stroke-dasharray="3 6" fill="none"/>
<text transform="matrix(0.167 0 0 0.027 547.8 470.874)" fill="#0acd19" stroke="#0acd19">S</text>
<rect x="548.28" y="472" width="9.99" height="0.9" fill="#f09070"/>
<rect x="548.28" y="474" width="9.99" height="0.9" fill="#0028e0"/>
<rect x="548.28" y="475.6" width="6.993" height="1.4" fill="#205060"/>
<path d="M548.28 479.3H558.27" stroke="#888" stroke-width="0.6" stroke-dasharray="3 6" fill="none"/>
<text transform="matrix(0.153 0 0 0.107 558.343 462.495)" fill="#0acd19">C</text>
<text transform="matrix(0.148 0 0 0.078 558.363 469.924)" fill="#0acd19" stroke="#0acd19">G</text>
<text transform="matrix(0.153 0 0 0.051 558.865 474)" fill="#0acd19" stroke="#0acd19">V</text>
<path d="M558.97 475H568.96" stroke="#e014c8" stroke-width="0.8" stroke-dasharray="3 6" fill="none"/>
<rect x="560.468" y="479" width="6.993" height="1.4" fill="#7060d0"/>
</g>
<path d="M97.6 375.616V483.5M91.4 483H97.6M91.4 458.2H97.6M91.4 433.4H97.6M91.4 408.6H97.6M91.4 383.8H97.6" stroke="#000" stroke-width="1" fill="none"/>
<g class="b" font-size="10.6" text-anchor="end">
<text x="89.7" y="486.816">0</text>
<text x="89.7" y="462.016">1</text>
<text x="89.7" y="437.216">2</text>
<text x="89.7" y="412.416">3</text>
<text x="89.7" y="387.616">4</text>
</g>
<text class="b" font-size="12.7" text-anchor="middle" transform="translate(80.8 429.308) rotate(-90)">bits</text>
<g class="b" font-size="9.6" text-anchor="end">
<text transform="translate(108.382 485.2) rotate(-90)">1</text>
<text transform="translate(119.072 485.2) rotate(-90)">2</text>
<text transform="translate(129.762 485.2) rotate(-90)">3</text>
<text transform="translate(140.452 485.2) rotate(-90)">4</text>
<text transform="translate(151.142 485.2) rotate(-90)">5</text>
<text transform="translate(161.832 485.2) rotate(-90)">6</text>
<text transform="translate(172.522 485.2) rotate(-90)">7</text>
<text transform="translate(183.212 485.2) rotate(-90)">8</text>
<text transform="translate(193.902 485.2) rotate(-90)">9</text>
<text transform="translate(204.592 485.2) rotate(-90)">10</text>
<text transform="translate(215.282 485.2) rotate(-90)">11</text>
<text transform="translate(225.972 485.2) rotate(-90)">12</text>
<text transform="translate(236.662 485.2) rotate(-90)">13</text>
<text transform="translate(247.352 485.2) rotate(-90)">14</text>
<text transform="translate(258.042 485.2) rotate(-90)">15</text>
<text transform="translate(268.732 485.2) rotate(-90)">16</text>
<text transform="translate(279.422 485.2) rotate(-90)">17</text>
<text transform="translate(290.112 485.2) rotate(-90)">18</text>
<text transform="translate(300.802 485.2) rotate(-90)">19</text>
<text transform="translate(311.492 485.2) rotate(-90)">20</text>
<text transform="translate(322.182 485.2) rotate(-90)">21</text>
<text transform="translate(332.872 485.2) rotate(-90)">22</text>
<text transform="translate(343.562 485.2) rotate(-90)">23</text>
<text transform="translate(354.252 485.2) rotate(-90)">24</text>
<text transform="translate(364.942 485.2) rotate(-90)">25</text>
<text transform="translate(375.632 485.2) rotate(-90)">26</text>
<text transform="translate(386.322 485.2) rotate(-90)">27</text>
<text transform="translate(397.012 485.2) rotate(-90)">28</text>
<text transform="translate(407.702 485.2) rotate(-90)">29</text>
<text transform="translate(418.392 485.2) rotate(-90)">30</text>
<text transform="translate(429.082 485.2) rotate(-90)">31</text>
<text transform="translate(439.772 485.2) rotate(-90)">32</text>
<text transform="translate(450.462 485.2) rotate(-90)">33</text>
<text transform="translate(461.152 485.2) rotate(-90)">34</text>
<text transform="translate(471.842 485.2) rotate(-90)">35</text>
<text transform="translate(482.532 485.2) rotate(-90)">36</text>
<text transform="translate(493.222 485.2) rotate(-90)">37</text>
<text transform="translate(503.912 485.2) rotate(-90)">38</text>
<text transform="translate(514.602 485.2) rotate(-90)">39</text>
<text transform="translate(525.292 485.2) rotate(-90)">40</text>
<text transform="translate(535.982 485.2) rotate(-90)">41</text>
<text transform="translate(546.672 485.2) rotate(-90)">42</text>
<text transform="translate(557.362 485.2) rotate(-90)">43</text>
<text transform="translate(568.052 485.2) rotate(-90)">44</text>
</g>
<text class="b" font-size="12.4" text-anchor="end" x="95.4" y="502">N</text>
<text class="b" font-size="12.4" x="572.66" y="502">C</text>
<text class="r" font-size="6.27" text-anchor="end" x="582.3" y="513">weblogo.berkeley.edu</text>
<text class="b" font-size="24.6" x="0.5" y="455">c)</text>
<g class="L">
<text transform="matrix(0.191 0 0 0.174 98.224 639.5)" fill="#f80c0c">D</text>
<text transform="matrix(0.173 0 0 0.148 98.789 651.855)" fill="#0acd19">G</text>
<text transform="matrix(0.199 0 0 0.055 98.169 657.8)" fill="#e014c8" stroke="#e014c8">N</text>
<text transform="matrix(0.195 0 0 0.049 98.937 662.452)" fill="#0acd19" stroke="#0acd19">S</text>
<path d="M99.5 663.8H111.2" stroke="#0028e0" stroke-width="1.2" stroke-dasharray="3 6" fill="none"/>
<path d="M99.5 666.45H111.2" stroke="#e58be0" stroke-width="0.9" stroke-dasharray="3 6" fill="none"/>
<text transform="matrix(0.184 0 0 0.094 110.667 650.5)" fill="#0028e0">R</text>
<text transform="matrix(0.195 0 0 0.037 111.337 654.564)" fill="#0acd19" stroke="#0acd19">S</text>
<rect x="111.9" y="656" width="11.7" height="0.9" fill="#000"/>
<rect x="111.9" y="657.8" width="11.7" height="0.9" fill="#333"/>
<rect x="115.41" y="660" width="3.51" height="1.4" fill="#0028e0"/>
<path d="M111.9 662.95H123.6" stroke="#0028e0" stroke-width="0.9" stroke-dasharray="3 6" fill="none"/>
<text transform="matrix(0.09 0 0 0.029 113.641 667)" fill="#e014c8" stroke="#e014c8">N</text>
<text transform="matrix(0.124 0 0 0.334 124.288 648)" fill="#000">W</text>
<text transform="matrix(0.209 0 0 0.051 122.905 653)" fill="#f80c0c" stroke="#f80c0c">E</text>
<text transform="matrix(0.199 0 0 0.061 124.077 658.2)" fill="#0acd19" stroke="#0acd19">T</text>
<rect x="125.47" y="658" width="9.36" height="1" fill="#0acd19"/>
<rect x="124.3" y="660" width="11.7" height="2.5" fill="#6f86ee"/>
<text transform="matrix(0.195 0 0 0.044 123.737 666.557)" fill="#0aa520" stroke="#0aa520">S</text>
<text transform="matrix(0.199 0 0 0.08 136.477 646)" fill="#0acd19" stroke="#0acd19">T</text>
<text transform="matrix(0.231 0 0 0.065 135.157 651.5)" fill="#222" stroke="#222">F</text>
<text transform="matrix(0.185 0 0 0.065 136.385 657)" fill="#0acd19" stroke="#0acd19">Y</text>
<text transform="matrix(0.18 0 0 0.094 136.542 664)" fill="#000">X</text>
<path d="M136.7 666.1H148.4" stroke="#bbb" stroke-width="0.6" stroke-dasharray="3 6" fill="none"/>
<text transform="matrix(0.228 0 0 0.523 147.575 639)" fill="#000">L</text>
<text transform="matrix(0.179 0 0 0.313 148.978 661.5)" fill="#000">V</text>
<text transform="matrix(0.231 0 0 0.045 147.557 665.6)" fill="#333" stroke="#333">F</text>
<text transform="matrix(0.179 0 0 0.08 161.378 643)" fill="#000" stroke="#000">V</text>
<text transform="matrix(0.173 0 0 0.078 160.789 649.424)" fill="#0acd19" stroke="#0acd19">G</text>
<text transform="matrix(0.124 0 0 0.051 161.488 654)" fill="#000" stroke="#000">W</text>
<text transform="matrix(0.185 0 0 0.073 161.185 659.5)" fill="#0acd19" stroke="#0acd19">Y</text>
<path d="M161.5 660.95H173.2" stroke="#000" stroke-width="0.9" stroke-dasharray="3 6" fill="none"/>
<rect x="161.5" y="662" width="11.7" height="0.9" fill="#7fe08a"/>
<rect x="161.5" y="664" width="11.7" height="0.9" fill="#999"/>
<text transform="matrix(0.173 0 0 1.226 173.189 661.602)" fill="#0acd19">G</text>
<text transform="matrix(0.228 0 0 0.051 172.375 667)" fill="#000" stroke="#000">L</text>
<text transform="matrix(0.097 0 0 0.276 190.796 640)" fill="#000">I</text>
<text transform="matrix(0.179 0 0 0.145 186.178 652)" fill="#000">V</text>
<text transform="matrix(0.191 0 0 0.058 185.024 658.5)" fill="#f80c0c" stroke="#f80c0c">D</text>
<text transform="matrix(0.228 0 0 0.058 184.775 663)" fill="#000" stroke="#000">L</text>
<text transform="matrix(0.199 0 0 0.045 186.077 666.6)" fill="#0acd19" stroke="#0acd19">T</text>
<text transform="matrix(0.179 0 0 0.334 198.578 637)" fill="#000">V</text>
<text transform="matrix(0.199 0 0 0.225 198.477 653.5)" fill="#0acd19">T</text>
<text transform="matrix(0.097 0 0 0.131 203.196 664)" fill="#000">I</text>
<text transform="matrix(0.195 0 0 0.038 198.137 667.163)" fill="#0acd19" stroke="#0acd19">S</text>
<text transform="matrix(0.195 0 0 1.222 210.537 661.306)" fill="#0acd19">S</text>
<text transform="matrix(0.124 0 0 0.051 211.088 667.5)" fill="#000" stroke="#000">W</text>
<text transform="matrix(0.124 0 0 1.054 223.488 656.5)" fill="#000">W</text>
<text transform="matrix(0.231 0 0 0.058 221.957 662)" fill="#222" stroke="#222">F</text>
<text transform="matrix(0.173 0 0 0.064 222.789 667.938)" fill="#0acd19" stroke="#0acd19">G</text>
<text transform="matrix(0.173 0 0 1.151 235.189 659.375)" fill="#0acd19">G</text>
<text transform="matrix(0.195 0 0 0.072 235.337 666.53)" fill="#0acd19" stroke="#0acd19">S</text>
<rect x="238.825" y="665.8" width="2.34" height="1" fill="#f07030"/>
<text transform="matrix(0.179 0 0 0.038 248.178 654.6)" fill="#777" stroke="#777">V</text>
<text transform="matrix(0.181 0 0 0.065 247.089 660)" fill="#e08090" stroke="#e08090">K</text>
<rect x="248.3" y="660.6" width="11.7" height="0.8" fill="#f05060"/>
<rect x="248.3" y="661.8" width="11.7" height="0.8" fill="#e08a8a"/>
<path d="M248.3 664.85H260" stroke="#20c080" stroke-width="0.7" stroke-dasharray="3 6" fill="none"/>
<path d="M248.3 665.9H260" stroke="#e58be0" stroke-width="0.6" stroke-dasharray="3 6" fill="none"/>
<text transform="matrix(0.173 0 0 0.254 259.989 644.752)" fill="#0acd19">G</text>
<text transform="matrix(0.199 0 0 0.058 259.369 652.5)" fill="#0028e0" stroke="#0028e0">H</text>
<text transform="matrix(0.167 0 0 0.044 259.581 657.5)" fill="#000" stroke="#000">M</text>
<rect x="260.7" y="658.5" width="11.7" height="0.9" fill="#20c080"/>
<text transform="matrix(0.199 0 0 0.051 259.369 663.5)" fill="#e014c8" stroke="#e014c8">N</text>
<rect x="260.7" y="665" width="11.7" height="1.5" fill="#0028e0"/>
<text transform="matrix(0.179 0 0 1.226 272.366 661.602)" fill="#0acd19">C</text>
<text transform="matrix(0.231 0 0 0.058 271.557 667)" fill="#666" stroke="#666">F</text>
<text transform="matrix(0.173 0 0 0.452 284.789 631.558)" fill="#0acd19">G</text>
<text transform="matrix(0.174 0 0 0.443 285.066 663)" fill="#000">A</text>
<text transform="matrix(0.195 0 0 0.049 284.937 667.952)" fill="#0acd19" stroke="#0acd19">S</text>
<text transform="matrix(0.181 0 0 0.051 296.689 652)" fill="#0028e0" stroke="#0028e0">K</text>
<text transform="matrix(0.181 0 0 0.047 296.689 655.5)" fill="#0028e0" stroke="#0028e0">K</text>
<text transform="matrix(0.185 0 0 0.029 297.585 660)" fill="#0acd19" stroke="#0acd19">Y</text>
<text transform="matrix(0.181 0 0 0.036 296.689 663)" fill="#802020" stroke="#802020">K</text>
<rect x="297.9" y="664" width="11.7" height="0.8" fill="#e014c8"/>
<rect x="297.9" y="665.2" width="11.7" height="0.8" fill="#0acd19"/>
<text transform="matrix(0.207 0 0 0.203 308.917 645.5)" fill="#000">P</text>
<text transform="matrix(0.174 0 0 0.058 309.866 650.5)" fill="#000" stroke="#000">A</text>
<text transform="matrix(0.181 0 0 0.08 309.089 656.5)" fill="#0028e0" stroke="#0028e0">K</text>
<text transform="matrix(0.181 0 0 0.058 309.089 661)" fill="#000" stroke="#000">K</text>
<text transform="matrix(0.181 0 0 0.044 309.089 664.5)" fill="#0028e0" stroke="#0028e0">K</text>
<rect x="310.3" y="665.5" width="11.7" height="1.5" fill="#e014c8"/>
<text transform="matrix(0.199 0 0 0.196 321.369 648.5)" fill="#e014c8">N</text>
<text transform="matrix(0.181 0 0 0.065 321.489 654.5)" fill="#0028e0" stroke="#0028e0">K</text>
<rect x="322.7" y="655.5" width="11.7" height="0.9" fill="#0acd19"/>
<text transform="matrix(0.228 0 0 0.036 321.175 659.5)" fill="#333" stroke="#333">L</text>
<text transform="matrix(0.209 0 0 0.029 321.305 662)" fill="#f80c0c" stroke="#f80c0c">E</text>
<rect x="322.7" y="663" width="11.7" height="1.2" fill="#f08080"/>
<rect x="322.7" y="664.6" width="11.7" height="1.2" fill="#0acd19"/>
<rect x="322.7" y="666.2" width="11.7" height="1.2" fill="#20c080"/>
<text transform="matrix(0.181 0 0 0.087 333.889 646)" fill="#0028e0" stroke="#0028e0">K</text>
<text transform="matrix(0.184 0 0 0.087 333.867 653)" fill="#0028e0" stroke="#0028e0">R</text>
<text transform="matrix(0.228 0 0 0.031 333.575 656.6)" fill="#333" stroke="#333">L</text>
<text transform="matrix(0.228 0 0 0.029 333.575 659)" fill="#333" stroke="#333">L</text>
<text transform="matrix(0.199 0 0 0.029 334.877 664)" fill="#20c080" stroke="#20c080">T</text>
<rect x="338.61" y="665" width="5.265" height="1" fill="#0028e0"/>
<text transform="matrix(0.207 0 0 1.462 346.117 667.6)" fill="#000">P</text>
<text transform="matrix(0.173 0 0 1.367 359.189 666.464)" fill="#0acd19">G</text>
<text transform="matrix(0.179 0 0 1.192 372.178 660)" fill="#000">V</text>
<text transform="matrix(0.097 0 0 0.08 376.796 667.5)" fill="#000" stroke="#000">I</text>
<text transform="matrix(0.185 0 0 1.462 384.385 667.6)" fill="#0acd19">Y</text>
<text transform="matrix(0.199 0 0 0.313 396.877 642.5)" fill="#0acd19">T</text>
<text transform="matrix(0.174 0 0 0.116 396.666 651.5)" fill="#000">A</text>
<text transform="matrix(0.179 0 0 0.087 396.978 659.5)" fill="#000" stroke="#000">V</text>
<text transform="matrix(0.195 0 0 0.107 396.537 667.495)" fill="#0acd19">S</text>
<text transform="matrix(0.199 0 0 0.225 408.169 634.5)" fill="#e014c8">N</text>
<text transform="matrix(0.184 0 0 0.203 408.267 649.5)" fill="#0028e0">R</text>
<text transform="matrix(0.181 0 0 0.174 408.289 662.5)" fill="#0028e0">K</text>
<path d="M409.5 664.45H421.2" stroke="#f80c0c" stroke-width="0.9" stroke-dasharray="3 6" fill="none"/>
<text transform="matrix(0.179 0 0 1.279 421.778 666)" fill="#000">V</text>
<rect x="421.9" y="666.6" width="11.7" height="0.7" fill="#333"/>
<text transform="matrix(0.174 0 0 0.08 433.866 647)" fill="#000" stroke="#000">A</text>
<text transform="matrix(0.199 0 0 0.08 434.077 653.5)" fill="#0acd19" stroke="#0acd19">T</text>
<text transform="matrix(0.195 0 0 0.071 433.737 658.931)" fill="#0acd19" stroke="#0acd19">S</text>
<rect x="434.3" y="659.5" width="11.7" height="0.5" fill="#333"/>
<rect x="434.3" y="662" width="11.7" height="0.8" fill="#a0c0a0"/>
<text transform="matrix(0.119 0 0 0.041 436.506 665.6)" fill="#000" stroke="#000">T</text>
<path d="M446.7 653.25H458.4" stroke="#0028e0" stroke-width="2.5" stroke-dasharray="3 6" fill="none"/>
<text transform="matrix(0.167 0 0 0.044 445.581 659)" fill="#999" stroke="#999">M</text>
<rect x="446.7" y="660.6" width="11.7" height="1" fill="#7fe08a"/>
<text transform="matrix(0.199 0 0 0.036 445.369 664.5)" fill="#e58be0" stroke="#e58be0">N</text>
<text transform="matrix(0.185 0 0 0.458 458.785 639.5)" fill="#0acd19">Y</text>
<text transform="matrix(0.231 0 0 0.276 457.557 660.5)" fill="#000">F</text>
<text transform="matrix(0.179 0 0 0.029 458.978 665)" fill="#888" stroke="#888">V</text>
<text transform="matrix(0.228 0 0 0.196 469.975 643)" fill="#000">L</text>
<text transform="matrix(0.185 0 0 0.102 471.185 652.5)" fill="#000">Y</text>
<text transform="matrix(0.097 0 0 0.065 475.996 657.5)" fill="#000" stroke="#000">I</text>
<text transform="matrix(0.228 0 0 0.029 469.975 661)" fill="#000" stroke="#000">L</text>
<text transform="matrix(0.199 0 0 0.036 471.277 664.5)" fill="#0acd19" stroke="#0acd19">T</text>
<path d="M471.5 666.65H483.2" stroke="#0028e0" stroke-width="1.3" stroke-dasharray="3 6" fill="none"/>
<text transform="matrix(0.191 0 0 0.262 482.624 643.5)" fill="#f80c0c">D</text>
<text transform="matrix(0.207 0 0 0.102 482.517 652.5)" fill="#000">P</text>
<text transform="matrix(0.209 0 0 0.073 482.505 658.5)" fill="#f80c0c" stroke="#f80c0c">E</text>
<text transform="matrix(0.199 0 0 0.029 482.569 661.5)" fill="#e014c8" stroke="#e014c8">N</text>
<text transform="matrix(0.195 0 0 0.066 483.337 667.435)" fill="#0acd19" stroke="#0acd19">S</text>
<text transform="matrix(0.124 0 0 1.462 496.288 667.6)" fill="#000">W</text>
<text transform="matrix(0.097 0 0 1.323 513.196 665)" fill="#000">I</text>
<rect x="511.04" y="666.6" width="7.02" height="0.7" fill="#999"/>
<text transform="matrix(0.185 0 0 0.094 520.785 652.5)" fill="#0acd19">Y</text>
<text transform="matrix(0.184 0 0 0.094 519.867 660.5)" fill="#6f86ee">R</text>
<rect x="521.1" y="654" width="11.7" height="1.4" fill="#0028e0"/>
<rect x="524.61" y="661.5" width="7.02" height="0.9" fill="#f06070"/>
<rect x="524.61" y="663.5" width="7.02" height="0.9" fill="#e08a8a"/>
<text transform="matrix(0.209 0 0 0.105 532.105 649.2)" fill="#f80c0c">E</text>
<text transform="matrix(0.195 0 0 0.049 532.937 653.452)" fill="#0acd19" stroke="#0acd19">S</text>
<text transform="matrix(0.199 0 0 0.036 532.169 657.5)" fill="#e014c8" stroke="#e014c8">N</text>
<rect x="533.5" y="658" width="11.7" height="2.5" fill="#0028e0"/>
<path d="M533.5 663.15H545.2" stroke="#e58be0" stroke-width="1.3" stroke-dasharray="3 6" fill="none"/>
<text transform="matrix(0.168 0 0 0.149 545.209 640.376)" fill="#e014c8">Q</text>
<text transform="matrix(0.181 0 0 0.102 544.689 652.5)" fill="#0028e0">K</text>
<text transform="matrix(0.179 0 0 0.073 545.778 658.5)" fill="#000" stroke="#000">V</text>
<path d="M545.9 660.9H557.6" stroke="#0028e0" stroke-width="1.8" stroke-dasharray="3 6" fill="none"/>
<path d="M545.9 663.6H557.6" stroke="#e58be0" stroke-width="1.2" stroke-dasharray="3 6" fill="none"/>
<text transform="matrix(0.097 0 0 0.196 562.796 641)" fill="#000">I</text>
<text transform="matrix(0.167 0 0 0.131 557.181 651.5)" fill="#000">M</text>
<text transform="matrix(0.199 0 0 0.051 558.077 656.5)" fill="#0acd19" stroke="#0acd19">T</text>
<text transform="matrix(0.181 0 0 0.073 557.089 663)" fill="#555" stroke="#555">K</text>
<text transform="matrix(0.181 0 0 0.067 557.089 667.6)" fill="#0028e0" stroke="#0028e0">K</text>
</g>
<path d="M97.6 560.616V668.5M91.4 668H97.6M91.4 643.2H97.6M91.4 618.4H97.6M91.4 593.6H97.6M91.4 568.8H97.6" stroke="#000" stroke-width="1" fill="none"/>
<g class="b" font-size="10.6" text-anchor="end">
<text x="89.7" y="671.816">0</text>
<text x="89.7" y="647.016">1</text>
<text x="89.7" y="622.216">2</text>
<text x="89.7" y="597.416">3</text>
<text x="89.7" y="572.616">4</text>
</g>
<text class="b" font-size="12.7" text-anchor="middle" transform="translate(80.8 614.308) rotate(-90)">bits</text>
<g class="b" font-size="10.5" text-anchor="end">
<text transform="translate(109.759 670.2) rotate(-90)">1</text>
<text transform="translate(122.159 670.2) rotate(-90)">2</text>
<text transform="translate(134.559 670.2) rotate(-90)">3</text>
<text transform="translate(146.959 670.2) rotate(-90)">4</text>
<text transform="translate(159.359 670.2) rotate(-90)">5</text>
<text transform="translate(171.759 670.2) rotate(-90)">6</text>
<text transform="translate(184.159 670.2) rotate(-90)">7</text>
<text transform="translate(196.559 670.2) rotate(-90)">8</text>
<text transform="translate(208.959 670.2) rotate(-90)">9</text>
<text transform="translate(221.359 670.2) rotate(-90)">10</text>
<text transform="translate(233.759 670.2) rotate(-90)">11</text>
<text transform="translate(246.159 670.2) rotate(-90)">12</text>
<text transform="translate(258.559 670.2) rotate(-90)">13</text>
<text transform="translate(270.959 670.2) rotate(-90)">14</text>
<text transform="translate(283.359 670.2) rotate(-90)">15</text>
<text transform="translate(295.759 670.2) rotate(-90)">16</text>
<text transform="translate(308.159 670.2) rotate(-90)">17</text>
<text transform="translate(320.559 670.2) rotate(-90)">18</text>
<text transform="translate(332.959 670.2) rotate(-90)">19</text>
<text transform="translate(345.359 670.2) rotate(-90)">20</text>
<text transform="translate(357.759 670.2) rotate(-90)">21</text>
<text transform="translate(370.159 670.2) rotate(-90)">22</text>
<text transform="translate(382.559 670.2) rotate(-90)">23</text>
<text transform="translate(394.959 670.2) rotate(-90)">24</text>
<text transform="translate(407.359 670.2) rotate(-90)">25</text>
<text transform="translate(419.759 670.2) rotate(-90)">26</text>
<text transform="translate(432.159 670.2) rotate(-90)">27</text>
<text transform="translate(444.559 670.2) rotate(-90)">28</text>
<text transform="translate(456.959 670.2) rotate(-90)">29</text>
<text transform="translate(469.359 670.2) rotate(-90)">30</text>
<text transform="translate(481.759 670.2) rotate(-90)">31</text>
<text transform="translate(494.159 670.2) rotate(-90)">32</text>
<text transform="translate(506.559 670.2) rotate(-90)">33</text>
<text transform="translate(518.959 670.2) rotate(-90)">34</text>
<text transform="translate(531.359 670.2) rotate(-90)">35</text>
<text transform="translate(543.759 670.2) rotate(-90)">36</text>
<text transform="translate(556.159 670.2) rotate(-90)">37</text>
<text transform="translate(568.559 670.2) rotate(-90)">38</text>
</g>
<text class="b" font-size="12.4" text-anchor="end" x="95.6" y="687">N</text>
<text class="b" font-size="12.4" x="573.7" y="687">C</text>
<text class="r" font-size="6.27" text-anchor="end" x="582.3" y="698">weblogo.berkeley.edu</text>
<text class="b" font-size="24.6" x="0.5" y="635">d)</text>
</svg>
</body></html>
